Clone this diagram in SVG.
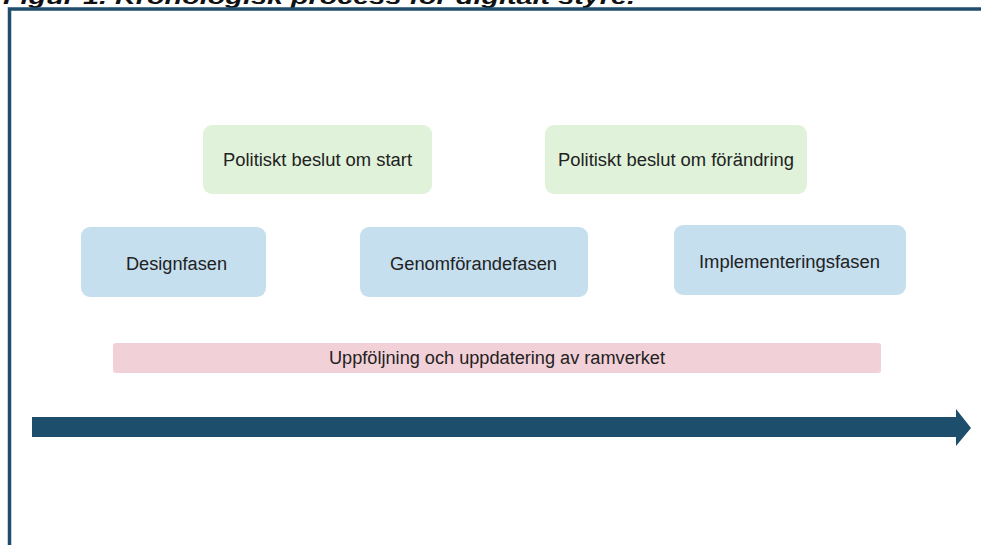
<svg xmlns="http://www.w3.org/2000/svg" width="981" height="545" viewBox="0 0 981 545">
<style>
.lbl{font-family:"Liberation Sans",Arial,sans-serif;font-size:18px;fill:#222;text-anchor:middle}
.green{fill:#e0f2d9}
.blue{fill:#c5dfef}
.pink{fill:#f2d0d8}
.frame{stroke:#1f4e6b;stroke-width:3.5;fill:none}
</style>
<text x="3" y="4" font-family="Liberation Sans, Arial, sans-serif" font-size="20" font-weight="bold" font-style="italic" fill="#111" textLength="632" lengthAdjust="spacingAndGlyphs">Figur 1. Kronologisk process för digitalt styre.</text>
<path class="frame" d="M9.5 545 V9 H981"/>
<g id="start">
<rect class="green" x="203" y="125" width="229" height="69" rx="9"/>
<text class="lbl" x="317.5" y="166" textLength="189" lengthAdjust="spacingAndGlyphs">Politiskt beslut om start</text>
</g>
<g id="forandring">
<rect class="green" x="545" y="125" width="262" height="69" rx="9"/>
<text class="lbl" x="676" y="166" textLength="236" lengthAdjust="spacingAndGlyphs">Politiskt beslut om förändring</text>
</g>
<g id="design">
<rect class="blue" x="81" y="227" width="185" height="70" rx="9"/>
<text class="lbl" x="176.5" y="270" textLength="101" lengthAdjust="spacingAndGlyphs">Designfasen</text>
</g>
<g id="genomforande">
<rect class="blue" x="360" y="227" width="228" height="70" rx="9"/>
<text class="lbl" x="473.5" y="270" textLength="167" lengthAdjust="spacingAndGlyphs">Genomförandefasen</text>
</g>
<g id="implementering">
<rect class="blue" x="674" y="225" width="232" height="70" rx="9"/>
<text class="lbl" x="789.5" y="268" textLength="181" lengthAdjust="spacingAndGlyphs">Implementeringsfasen</text>
</g>
<g id="uppfoljning">
<rect class="pink" x="113" y="343" width="768" height="30" rx="3"/>
<text class="lbl" x="497" y="364" textLength="336" lengthAdjust="spacingAndGlyphs">Uppföljning och uppdatering av ramverket</text>
</g>
<g id="connectors">
<path d="M32 417 H956 V409 L971 428 L956 446 V437 H32 Z" fill="#1d4e6b"/>
</g>
</svg>
